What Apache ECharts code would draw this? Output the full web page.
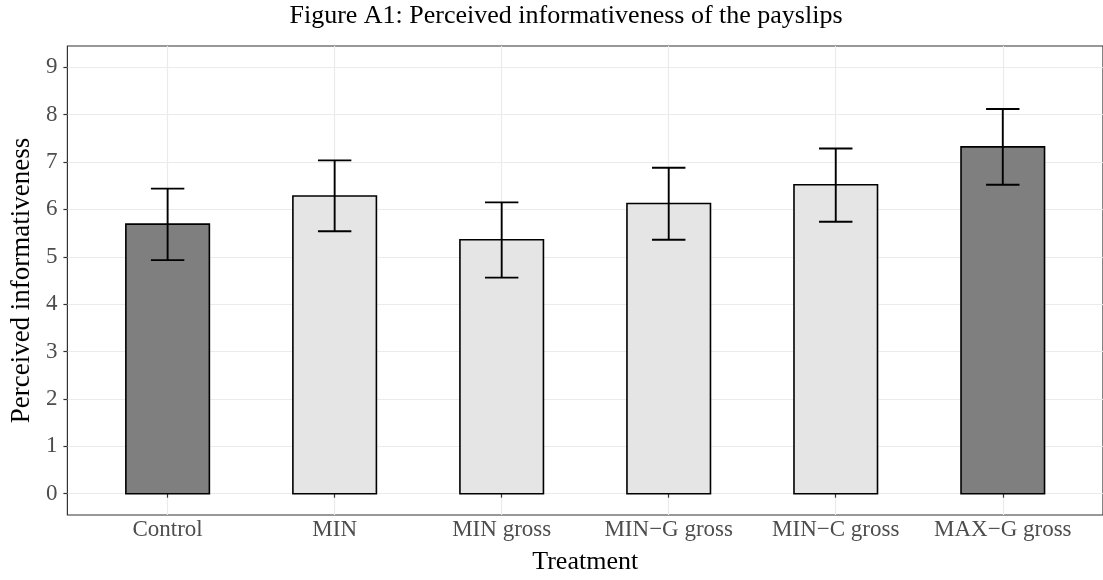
<!DOCTYPE html>
<html>
<head>
<meta charset="utf-8">
<script src="https://cdn.jsdelivr.net/npm/echarts@6/dist/echarts.min.js"></script>
<style>html,body{margin:0;padding:0;background:#fff}#c{width:1103px;height:580px}</style>
</head>
<body>
<div id="c"></div>
<script>
const categories = ['Control', 'MIN', 'MIN gross', 'MIN\u2212G gross', 'MIN\u2212C gross', 'MAX\u2212G gross'];
const means = [5.69, 6.285, 5.36, 6.125, 6.52, 7.32];
const lower = [4.93, 5.54, 4.56, 5.36, 5.74, 6.52];
const upper = [6.44, 7.035, 6.15, 6.88, 7.285, 8.12];
const group = ['reference', 'variant', 'variant', 'variant', 'variant', 'reference'];
const yTicks = [0, 1, 2, 3, 4, 5, 6, 7, 8, 9];

const positions = categories.map((c, i) => i + 1);
const fills = { reference: '#7f7f7f', variant: '#e5e5e5' };
const serif = 'Liberation Serif';

const chart = echarts.init(document.getElementById('c'), null, { renderer: 'canvas' });

const barData = positions.map((p, i) => [p, means[i], i]);
const errData = positions.map((p, i) => [p, lower[i], upper[i]]);

chart.setOption({
  animation: false,
  backgroundColor: '#fff',
  title: {
    text: 'Figure A1: Perceived informativeness of the payslips',
    left: 561, top: -2, textAlign: 'center',
    textStyle: { fontFamily: serif, fontSize: 26, fontWeight: 'normal', color: '#000' }
  },
  grid: { left: 65, top: 46, width: 1042, height: 474, show: true, borderColor: '#333333', borderWidth: 1.2, backgroundColor: '#fff' },
  xAxis: {
    type: 'value', min: 0.4, max: 6.6,
    name: 'Treatment', nameLocation: 'middle', nameGap: 34,
    nameTextStyle: { fontFamily: serif, fontSize: 26, color: '#000' },
    axisLine: { show: false },
    axisTick: { show: true, length: 4, lineStyle: { color: '#333333', width: 1.2 }, customValues: positions },
    axisLabel: { customValues: positions, margin: 3, fontFamily: serif, fontSize: 23, color: '#4d4d4d',
      formatter: v => categories[Math.round(v) - 1] || '' },
    splitLine: { show: true, lineStyle: { color: '#ebebeb', width: 1.2 } }
  },
  yAxis: {
    type: 'value', min: -0.45, max: 9.45,
    name: 'Perceived informativeness', nameLocation: 'middle', nameGap: 21,
    nameTextStyle: { fontFamily: serif, fontSize: 27, color: '#000' },
    axisLine: { show: false },
    axisTick: { show: true, length: 4, lineStyle: { color: '#333333', width: 1.2 }, customValues: yTicks },
    axisLabel: { customValues: yTicks, margin: 10, fontFamily: serif, fontSize: 23, color: '#4d4d4d' },
    splitLine: { show: true, lineStyle: { color: '#ebebeb', width: 1.2 } }
  },
  series: [
    {
      type: 'custom',
      data: barData,
      renderItem: function (params, api) {
        const x = api.value(0), m = api.value(1), idx = api.value(2);
        const a = api.coord([x - 0.25, m]);
        const b = api.coord([x + 0.25, 0]);
        return {
          type: 'rect',
          shape: { x: a[0], y: a[1], width: b[0] - a[0], height: b[1] - a[1] },
          style: { fill: fills[group[idx]], stroke: '#000', lineWidth: 1.6 }
        };
      }
    },
    {
      type: 'custom',
      data: errData,
      renderItem: function (params, api) {
        const x = api.value(0), lo = api.value(1), hi = api.value(2);
        const pLo = api.coord([x, lo]), pHi = api.coord([x, hi]);
        const l = api.coord([x - 0.1, lo])[0], r = api.coord([x + 0.1, lo])[0];
        const st = { stroke: '#000', lineWidth: 1.9 };
        return {
          type: 'group',
          children: [
            { type: 'line', shape: { x1: pLo[0], y1: pLo[1], x2: pHi[0], y2: pHi[1] }, style: st },
            { type: 'line', shape: { x1: l, y1: pLo[1], x2: r, y2: pLo[1] }, style: st },
            { type: 'line', shape: { x1: l, y1: pHi[1], x2: r, y2: pHi[1] }, style: st }
          ]
        };
      }
    }
  ]
});
</script>
</body>
</html>
